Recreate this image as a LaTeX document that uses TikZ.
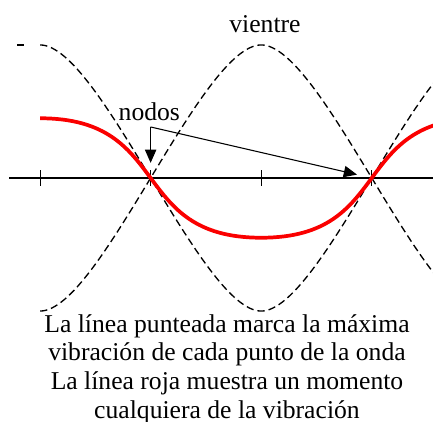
\documentclass[tikz,border=0pt]{standalone}
\usepackage{fontspec}
\setmainfont{Liberation Serif}
\usepackage{tikz}
\usetikzlibrary{arrows.meta}
\definecolor{moment}{RGB}{250,0,0}

\begin{document}
\begin{tikzpicture}[arr/.style={-{Triangle[length=0.35cm,width=0.3cm]}, line width=0.8pt, shorten >=0.4cm},
  wave/.style={line width=1pt, dash pattern=on 5.5pt off 3pt},
  lbl/.style={font=\fontsize{19.3}{21.5}\selectfont, inner sep=0pt}]
\useasboundingbox (0,-6.455) rectangle (11.455,4.709);
%% ---- curves, cut at the frame ----
\begin{scope}
  \clip (0,-6.455) rectangle (11.455,4.709);
  \draw[line width=1.1pt] (0.24,0) -- (11.6,0);
  \draw[line width=0.8pt] (1.06,-0.2) -- (1.06,0.2);
  \draw[line width=0.8pt] (3.985,-0.2) -- (3.985,0.2);
  \draw[line width=0.8pt] (6.91,-0.2) -- (6.91,0.2);
  \draw[line width=0.8pt] (9.835,-0.2) -- (9.835,0.2);
  % maximum vibration
  \draw[wave] (1.06,-3.52) .. controls (2.64,-3.52) and (5.33,3.52) .. (6.91,3.52)
    .. controls (8.49,3.52) and (11.18,-3.52) .. (12.76,-3.52);
  \draw[wave] (0.45,3.52) -- (0.66,3.52);
  \draw[wave] (1.06,3.52) .. controls (2.64,3.52) and (5.33,-3.52) .. (6.91,-3.52)
    .. controls (8.49,-3.52) and (11.18,3.52) .. (12.76,3.52);
  % one moment
  \draw[moment, line width=2.8pt] (1.06,1.58) .. controls (4.57,1.58) and (3.4,-1.58) .. (6.91,-1.58)
    .. controls (10.42,-1.58) and (9.25,1.58) .. (12.76,1.58);
\end{scope}
%% ---- labels ----
\coordinate (nodA) at (3.985,0);
\coordinate (nodB) at (9.835,0);
\coordinate (corner) at (3.985,1.35);
\node[lbl, anchor=base] (vientre) at (7.01,3.86) {vientre};
\node[lbl, anchor=base] (nodos) at (3.95,1.534) {nodos};
\draw[arr] (corner) -- (nodA);
\draw[arr] (corner) -- (nodB);
\node[lbl, align=center, anchor=base] (caption) at (6.005,-6.35)
  {La línea punteada marca la máxima\\vibración de cada punto de la onda\\La línea roja muestra un momento\\cualquiera de la vibración};
\end{tikzpicture}
\end{document}
